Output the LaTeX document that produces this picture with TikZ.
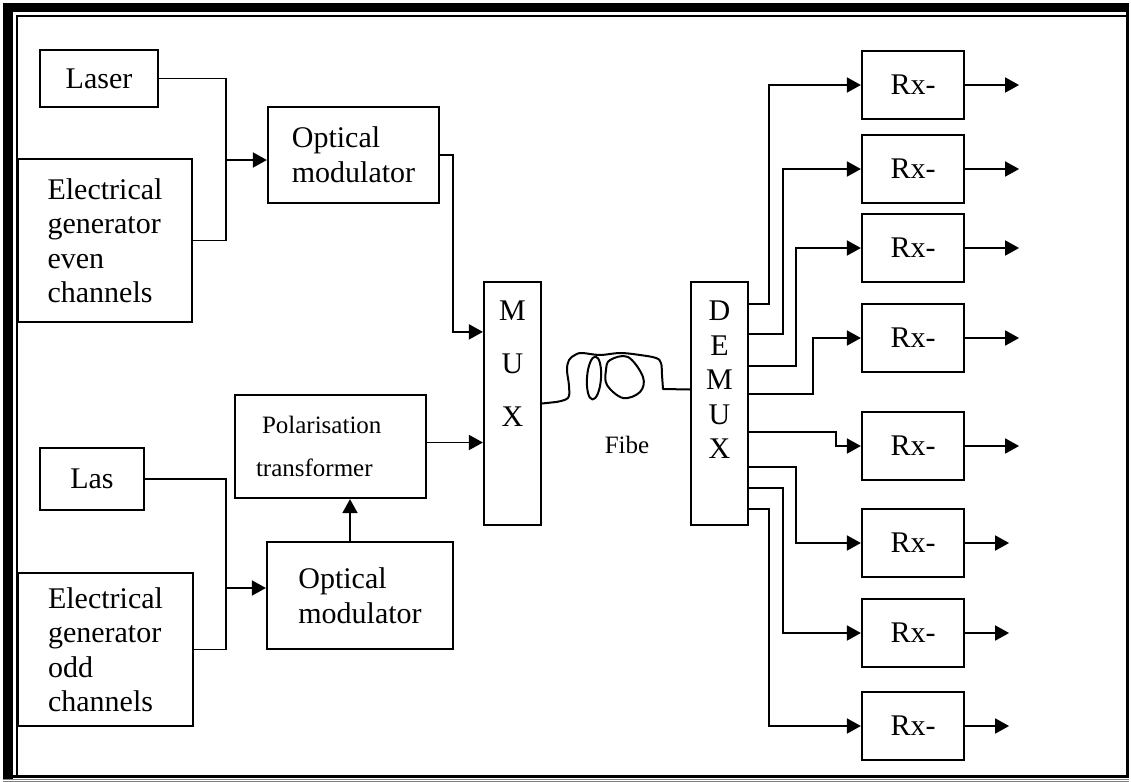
\documentclass[tikz,border=0pt]{standalone}
\usepackage{fontspec}
\setmainfont{Liberation Serif}
\usetikzlibrary{arrows.meta, calc}

\begin{document}
\begin{tikzpicture}[
    x=0.5pt, y=-0.5pt,
    every node/.style={font=\fontsize{15}{17.5}\selectfont},
    box/.style={draw, line width=1.1pt, inner sep=0pt, align=left},
    rxbox/.style={box, align=center, minimum width=51pt, minimum height=34pt},
    arrow/.style={-{Triangle[length=7pt, width=7.5pt]}, line width=0.9pt},
    link/.style={line width=0.9pt},
    fibre/.style={line width=1pt, line join=round}
]
\useasboundingbox (0,0) rectangle (1131,782);

% page frame
\fill (3,3) rectangle (13,780);
\fill (3,3) rectangle (1129,12);
\draw[line width=1pt] (17,776) -- (17,16) -- (1127,16);
\draw[line width=1.5pt] (1127,12) -- (1127,776) -- (13,776);
\draw[gray, line width=0.5pt] (3,779) -- (1129,779) (3,781) -- (1129,781);

% transmitters
\node[box, align=center, minimum width=59pt, minimum height=28.5pt] (laser) at (99,78.5) {Laser};
\node[box, minimum width=87pt, minimum height=81.5pt, font=\fontsize{15}{17.25}\selectfont] (geneven) at (105,240.5) {Electrical\\generator\\even\\channels};
\node[box, minimum width=85.5pt, minimum height=48pt] (om1) at (353.5,155) {Optical\\modulator};
\node[box, align=center, minimum width=52pt, minimum height=31pt] (las) at (92,479) {Las};
\node[box, minimum width=87.5pt, minimum height=76.5pt, font=\fontsize{15}{17.25}\selectfont] (genodd) at (105.5,649.5) {Electrical\\generator\\odd\\channels};
\node[box, minimum width=93pt, minimum height=53.5pt] (om2) at (360,595.5) {Optical\\modulator};
\node[box, minimum width=95.5pt, minimum height=51.5pt, inner xsep=10.5pt, text width=74.5pt, font=\fontsize{12.5}{21.5}\selectfont] (pt) at (330.5,446.5) {\hspace*{3pt}Polarisation\\transformer};

% mux / demux
\node[box, minimum width=28.5pt, minimum height=121.5pt,
      label={[anchor=north, inner sep=0pt, yshift=-10pt, align=center, font=\fontsize{15}{26.5}\selectfont]north:M\\U\\X}] (mux) at (512.5,403.5) {};
\node[box, minimum width=28.5pt, minimum height=121.5pt,
      label={[anchor=north, inner sep=0pt, yshift=-10pt, align=center, font=\fontsize{15}{17.25}\selectfont]north:D\\E\\M\\U\\X}] (demux) at (719.5,403.5) {};

% receivers
\foreach \i/\yy in {1/85, 2/169, 3/248, 4/338, 5/446, 6/543, 7/633, 8/726}
    \node[rxbox] (rx\i) at (913,\yy) {Rx-};

\coordinate (j1) at (226,160);
\coordinate (j2) at (226,588);

\draw[link] (laser.east) -| (j1) |- (geneven.east);
\draw[arrow] (j1) -- (j1 -| om1.west);
\draw[link] (las.east) -| (j2) |- (genodd.east);
\draw[arrow] (j2) -- (j2 -| om2.west);
\draw[arrow] (om1.east) -- ++(13,0) |- ($(mux.north west)+(0,51)$);
\draw[arrow] ([yshift=2pt]pt.east) -- ([yshift=2pt]pt.east -| mux.west);
\draw[arrow] ([xshift=-5pt]om2.north) -- ([xshift=-5pt]om2.north |- pt.south);

% fibre coil
\draw[fibre] (mux.east) -- plot[smooth, tension=0.6] coordinates {(556,402) (568,398) (569,386) (567,370) (569,360) (575,355) (582,353) (600,355) (620,353) (640,355) (656,358) (661,363) (662,375) (663,389)} -- ([yshift=7pt]demux.west);
\draw[fibre, rotate around={-4:(594,378)}] (594,378) ellipse [x radius=3.5pt, y radius=10.75pt];
\draw[fibre] plot[smooth cycle, tension=0.6] coordinates {(610,360) (628,357) (643,377) (640,392) (623,398) (607,385) (606,370)};
\node[font=\fontsize{12.5}{15}\selectfont] (fibe) at (627,445) {Fibe};

% demux outputs
\foreach \i/\dy/\dx in {1/23/-92, 2/53/-78, 3/85/-65, 4/113/-48, 5/151/-25, 6/186/-65, 7/207/-78, 8/228/-92}
    \draw[arrow] ($(demux.north east)+(0,\dy)$) -| ($(rx\i.west)+(\dx,0)$) -- (rx\i.west);

\foreach \i/\len in {1/54, 2/54, 3/54, 4/54, 5/54, 6/44, 7/44, 8/44} {
    \coordinate (out\i) at ($(rx\i.east)+(\len,0)$);
    \draw[arrow] (rx\i.east) -- (out\i);
}

\end{tikzpicture}
\end{document}
